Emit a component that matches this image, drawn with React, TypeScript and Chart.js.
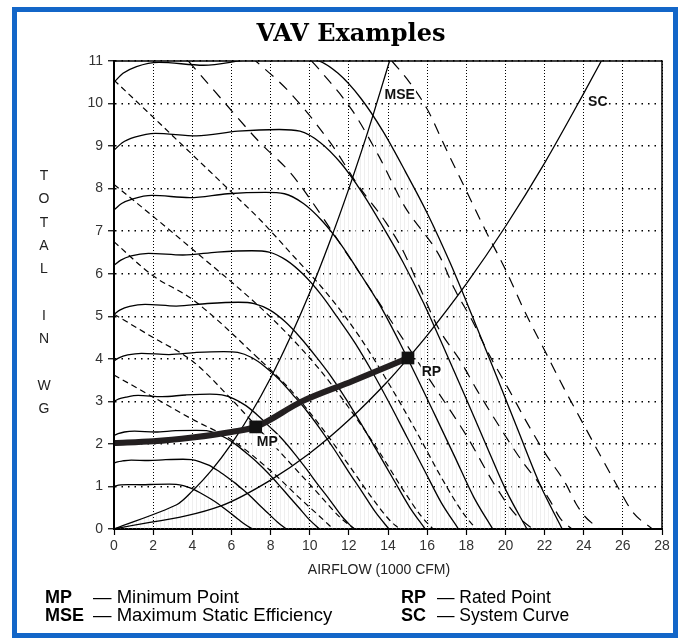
import React, { useEffect, useRef } from "react";
import { Chart, registerables } from "chart.js";

Chart.register(...registerables);

type Pt = [number, number];

// ---------- axes ----------
const xMin = 0;
const xMax = 28;
const xStep = 2;
const yMin = 0;
const yMax = 11;
const yStep = 1;

// ---------- fan speed curves (solid) ----------
const fanCurve1: Pt[] = [[0,10.5],[0.46,10.71],[1.15,10.87],[2.29,10.97],[4.58,10.9],[6.87,11.03],[9.16,11.08],[10.31,11.03],[11.45,10.71],[12.6,10.13],[13.74,9.35],[14.89,8.4],[16.03,7.4],[17.18,6.25],[18.32,4.99],[19.47,3.68],[20.61,2.36],[21.76,1.05],[22.9,0]];
const fanCurve2: Pt[] = [[0,8.9],[0.42,9.08],[1.06,9.21],[2.11,9.3],[4.22,9.24],[6.33,9.35],[8.44,9.39],[9.5,9.35],[10.55,9.08],[11.61,8.59],[12.66,7.92],[13.72,7.12],[14.77,6.27],[15.83,5.3],[16.88,4.23],[17.94,3.12],[18.99,2.0],[20.05,0.89],[21.1,0]];
const fanCurve3: Pt[] = [[0,7.5],[0.39,7.65],[0.97,7.76],[1.94,7.84],[3.87,7.79],[5.81,7.88],[7.74,7.91],[8.71,7.88],[9.68,7.65],[10.64,7.24],[11.61,6.68],[12.58,6.0],[13.55,5.29],[14.51,4.46],[15.48,3.56],[16.45,2.63],[17.42,1.69],[18.38,0.75],[19.35,0]];
const fanCurve4: Pt[] = [[0,6.2],[0.35,6.32],[0.88,6.42],[1.76,6.48],[3.52,6.44],[5.28,6.51],[7.04,6.54],[7.92,6.51],[8.8,6.32],[9.68,5.98],[10.56,5.52],[11.44,4.96],[12.32,4.37],[13.2,3.69],[14.08,2.95],[14.96,2.17],[15.84,1.4],[16.72,0.62],[17.6,0]];
const fanCurve5: Pt[] = [[0,5.05],[0.32,5.15],[0.8,5.23],[1.59,5.28],[3.18,5.24],[4.77,5.3],[6.36,5.33],[7.16,5.3],[7.95,5.15],[8.75,4.87],[9.54,4.49],[10.34,4.04],[11.13,3.56],[11.93,3.0],[12.72,2.4],[13.52,1.77],[14.31,1.14],[15.11,0.51],[15.9,0]];
const fanCurve6: Pt[] = [[0,3.95],[0.28,4.03],[0.7,4.09],[1.41,4.13],[2.81,4.1],[4.22,4.15],[5.62,4.17],[6.32,4.15],[7.03,4.03],[7.73,3.81],[8.43,3.52],[9.13,3.16],[9.84,2.78],[10.54,2.35],[11.24,1.88],[11.94,1.38],[12.65,0.89],[13.35,0.4],[14.05,0]];
const fanCurve7: Pt[] = [[0,3.0],[0.25,3.06],[0.61,3.1],[1.23,3.14],[2.45,3.11],[3.68,3.15],[4.9,3.17],[5.51,3.15],[6.13,3.06],[6.74,2.9],[7.35,2.67],[7.96,2.4],[8.58,2.12],[9.19,1.79],[9.8,1.43],[10.41,1.05],[11.03,0.68],[11.64,0.3],[12.25,0]];
const fanCurve8: Pt[] = [[0,2.2],[0.21,2.24],[0.53,2.28],[1.05,2.3],[2.1,2.28],[3.15,2.31],[4.2,2.32],[4.73,2.31],[5.25,2.24],[5.78,2.12],[6.3,1.96],[6.83,1.76],[7.35,1.55],[7.88,1.31],[8.4,1.05],[8.93,0.77],[9.45,0.5],[9.98,0.22],[10.5,0]];
const fanCurve9: Pt[] = [[0,1.55],[0.18,1.58],[0.44,1.6],[0.88,1.62],[1.76,1.61],[2.64,1.63],[3.52,1.64],[3.96,1.63],[4.4,1.58],[4.84,1.5],[5.28,1.38],[5.72,1.24],[6.16,1.09],[6.6,0.92],[7.04,0.74],[7.48,0.54],[7.92,0.35],[8.36,0.16],[8.8,0]];
const fanCurve10: Pt[] = [[0,1.0],[0.14,1.02],[0.35,1.035],[0.71,1.045],[1.41,1.04],[2.12,1.05],[2.83,1.055],[3.18,1.05],[3.54,1.02],[3.89,0.965],[4.24,0.89],[4.6,0.8],[4.95,0.705],[5.3,0.6],[5.66,0.475],[6.01,0.35],[6.36,0.225],[6.72,0.1],[7.07,0]];

// ---------- short-dashed curves (from left axis) ----------
const shortDash1: Pt[] = [[0,10.55],[2,9.68],[4,8.8],[6,7.92],[7.42,7.29],[9,6.5],[11,5.47],[12.5,4.55],[14,3.45],[15.5,2.25],[16.8,1.15],[17.8,0.4],[18.5,0]];
const shortDash2: Pt[] = [[0,8.1],[2.15,7.29],[4,6.58],[7.4,5.24],[9,4.52],[10.5,3.75],[12,2.85],[13.5,1.85],[14.8,0.9],[15.7,0.3],[16.3,0]];
const shortDash3: Pt[] = [[0,6.75],[2,5.95],[4,5.4],[7.4,4.0],[9,3.28],[10.5,2.45],[12,1.5],[13.2,0.72],[14.1,0.2],[14.6,0]];
const shortDash4: Pt[] = [[0,5.05],[2,4.5],[4,3.95],[6,3.05],[7.4,2.35],[9,1.55],[10.5,0.8],[11.6,0.25],[12.3,0]];
const shortDash5: Pt[] = [[0,3.62],[2,3.1],[4,2.58],[6,2.1],[8.1,1.33],[9.5,0.72],[10.5,0.3],[11.2,0]];

// ---------- long-dashed curves (from the top) ----------
const longDash1: Pt[] = [[3.8,11],[5.5,10.1],[7.42,9.1],[8.96,8.4],[9.8,7.9],[12,6.4],[14,5.0],[16,3.6],[18,2.2],[19.5,1.0],[20.5,0.35],[21.4,0]];
const longDash2: Pt[] = [[7.0,11.1],[8.96,10.27],[11.1,9.05],[12.5,8.06],[13.9,7.2],[14.7,6.6],[15.6,5.7],[16.6,4.7],[17.7,3.95],[18.5,3.3],[19.5,2.55],[20.4,1.9],[21.0,1.5],[21.6,1.15],[22.3,0.65],[22.8,0.25],[23.4,0]];
const longDash3: Pt[] = [[10.1,11.0],[10.6,10.74],[12.2,9.82],[13.56,8.74],[14.84,7.59],[16.63,6.42],[17.4,5.64],[18.3,4.9],[19.2,4.07],[20.1,3.34],[21.1,2.5],[22.0,1.8],[23.1,1.05],[23.6,0.6],[24.05,0.3],[24.8,0]];
const longDash4: Pt[] = [[14.2,11],[15.1,10.5],[16,9.87],[17,8.9],[18,7.95],[19,7.0],[20,6.1],[21,5.1],[22,4.2],[23,3.3],[24,2.45],[25,1.6],[25.8,0.94],[26.5,0.4],[27.5,0]];

// ---------- system curve, MSE, operating line ----------
const systemCurve: Pt[] = [[0,0],[5.5,0.55],[8,1.15],[10,1.78],[12,2.56],[14,3.48],[15,4.0],[16,4.55],[18,5.76],[20,7.11],[22,8.6],[24,10.24],[24.9,11.0]];
const mseCurve: Pt[] = [[0,0],[3.2,0.57],[4,0.89],[5,1.39],[6,2.0],[7,2.72],[8,3.55],[9,4.5],[10,5.55],[11,6.72],[12,8.0],[13,9.38],[14.08,11.0]];
const operatingLine: Pt[] = [[0,2.02],[2,2.06],[4,2.15],[6,2.28],[7.24,2.4],[9.6,3.0],[12.2,3.48],[15.02,4.02]];
const minimumPoint: Pt = [7.24, 2.4];
const ratedPoint: Pt = [15.02, 4.02];
const hatchApex: Pt = [13.2, 9.7];

// ---------- in-plot labels ----------
const curveLabelTexts = ["MSE", "SC", "MP", "RP"];
const curveLabelAnchors: Pt[] = [[14.6, 10.22], [24.72, 10.05], [7.83, 2.06], [16.22, 3.7]];

// ---------- text ----------
const titleText = "VAV Examples";
const xAxisTitle = "AIRFLOW (1000 CFM)";
const yAxisLetters = ["T", "O", "T", "A", "L", "", "I", "N", "", "W", "G"];
const legendRows = [
  { k1: "MP", t1: "— Minimum Point", k2: "RP", t2: "— Rated Point" },
  { k1: "MSE", t1: "— Maximum Static Efficiency", k2: "SC", t2: "— System Curve" },
];

const SANS = "'Liberation Sans', Arial, Helvetica, sans-serif";

const toXY = (pts: Pt[]) => pts.map(([x, y]) => ({ x, y }));

export default function App() {
  const ref = useRef<HTMLCanvasElement | null>(null);

  useEffect(() => {
    const canvas = ref.current;
    if (!canvas) return;
    const ctx = canvas.getContext("2d");
    if (!ctx) return;

    const pc = document.createElement("canvas");
    pc.width = 4;
    pc.height = 4;
    const pctx = pc.getContext("2d")!;
    pctx.fillStyle = "#efefef";
    pctx.fillRect(0, 0, 1, 4);
    const hatchPattern = ctx.createPattern(pc, "repeat") || "#f4f4f4";

    const hatchPolygon: Pt[] = [
      ...mseCurve.filter((p) => p[0] < hatchApex[0]),
      hatchApex,
      ...fanCurve1.filter((p) => p[0] > hatchApex[0]),
      [0, 0],
    ];

    const solid = (pts: Pt[], order = 3, width = 1.3) => ({
      data: toXY(pts),
      borderColor: "#000",
      borderWidth: width,
      pointRadius: 0,
      fill: false,
      cubicInterpolationMode: "monotone" as const,
      order,
    });
    const dashed = (pts: Pt[], dash: number[]) => ({
      ...solid(pts, 4, 1.2),
      borderDash: dash,
    });

    const fans = [fanCurve1, fanCurve2, fanCurve3, fanCurve4, fanCurve5, fanCurve6, fanCurve7, fanCurve8, fanCurve9, fanCurve10];
    const shorts = [shortDash1, shortDash2, shortDash3, shortDash4, shortDash5];
    const longs = [longDash1, longDash2, longDash3, longDash4];

    const datasets: any[] = [
      {
        data: toXY([minimumPoint, ratedPoint]),
        showLine: false,
        pointStyle: "rect",
        pointRadius: 9,
        pointBackgroundColor: "#111",
        pointBorderColor: "#111",
        pointBorderWidth: 0,
        order: 0,
      },
      {
        data: toXY(operatingLine),
        borderColor: "#231f20",
        borderWidth: 6,
        pointRadius: 0,
        cubicInterpolationMode: "monotone",
        borderCapStyle: "round",
        fill: false,
        order: 1,
      },
      solid(systemCurve, 2, 1.3),
      { ...solid(mseCurve, 2, 1.3), cubicInterpolationMode: "default", tension: 0.3 },
      ...fans.map((f) => solid(f)),
      ...shorts.map((s) => dashed(s, [6, 4])),
      ...longs.map((l) => dashed(l, [11, 8])),
      {
        data: toXY(hatchPolygon),
        borderWidth: 0,
        borderColor: "rgba(0,0,0,0)",
        backgroundColor: hatchPattern,
        pointRadius: 0,
        fill: "shape",
        tension: 0,
        order: 10,
      },
    ];

    const annotate = {
      id: "vavAnnotate",
      afterDatasetsDraw(chart: any) {
        const { ctx: c, chartArea: a, scales } = chart;
        c.save();
        c.strokeStyle = "#000";
        c.lineWidth = 1.5;
        c.setLineDash([]);
        c.strokeRect(a.left, a.top, a.right - a.left, a.bottom - a.top);
        c.font = `bold 14px ${SANS}`;
        c.textAlign = "center";
        c.textBaseline = "middle";
        curveLabelTexts.forEach((t, i) => {
          const px = scales.x.getPixelForValue(curveLabelAnchors[i][0]);
          const py = scales.y.getPixelForValue(curveLabelAnchors[i][1]);
          const w = c.measureText(t).width;
          c.fillStyle = "#fff";
          c.fillRect(px - w / 2 - 1, py - 7, w + 2, 14);
          c.fillStyle = "#111";
          c.fillText(t, px, py + 1);
        });
        c.restore();
      },
    };

    const tickFont = { family: SANS, size: 14 };

    const chart = new Chart(ctx, {
      type: "line",
      data: { datasets },
      plugins: [annotate],
      options: {
        responsive: false,
        animation: false,
        events: [],
        layout: { padding: { left: 59, right: 20, top: 61, bottom: 84 } },
        plugins: {
          legend: { display: false },
          tooltip: { enabled: false },
          title: { display: false },
        },
        scales: {
          x: {
            type: "linear",
            min: xMin,
            max: xMax,
            ticks: { stepSize: xStep, color: "#333", font: tickFont, padding: 3, maxRotation: 0, autoSkip: false },
            grid: { color: "#000", lineWidth: 1, tickLength: 6, tickColor: "#000", tickWidth: 1.2 },
            border: { display: true, color: "#000", width: 2, dash: [1, 2] },
            afterFit: (s: any) => {
              s.height = 30;
            },
          },
          y: {
            type: "linear",
            min: yMin,
            max: yMax,
            ticks: { stepSize: yStep, color: "#333", font: tickFont, padding: 5, autoSkip: false },
            grid: { color: "#000", lineWidth: 1.5, tickLength: 6, tickColor: "#000", tickWidth: 1.2 },
            border: { display: true, color: "#000", width: 2, dash: [1.5, 5] },
            afterFit: (s: any) => {
              s.width = 55;
            },
          },
        },
      } as any,
    });

    return () => chart.destroy();
  }, []);

  const abs = (o: React.CSSProperties): React.CSSProperties => ({ position: "absolute", margin: 0, whiteSpace: "nowrap", ...o });

  return (
    <div style={{ position: "absolute", left: 0, top: 0, width: 682, height: 643, overflow: "hidden", background: "#fff" }}>
      <canvas ref={ref} width={682} height={643} style={{ position: "absolute", left: 0, top: 0, width: 682, height: 643 }} />
      <div
        style={abs({
          left: 12,
          top: 7,
          width: 666,
          height: 631,
          boxSizing: "border-box",
          border: "5px solid #1366c8",
          pointerEvents: "none",
        })}
      />
      <div
        style={abs({
          left: 0,
          width: 702,
          top: 18,
          lineHeight: "30px",
          textAlign: "center",
          fontFamily: "'DejaVu Serif', 'Liberation Serif', serif",
          fontWeight: "bold",
          fontSize: 24,
          color: "#000",
        })}
      >
        {titleText}
      </div>
      {yAxisLetters.map((ch, i) =>
        ch ? (
          <div
            key={i}
            style={abs({
              left: 34,
              width: 20,
              top: 166 + i * 23.3,
              lineHeight: "18px",
              textAlign: "center",
              fontFamily: SANS,
              fontSize: 14,
              color: "#222",
            })}
          >
            {ch}
          </div>
        ) : null
      )}
      <div
        style={abs({
          left: 279,
          width: 200,
          top: 560,
          lineHeight: "18px",
          textAlign: "center",
          fontFamily: SANS,
          fontSize: 14,
          color: "#222",
        })}
      >
        {xAxisTitle}
      </div>
      {legendRows.map((r, i) => (
        <React.Fragment key={i}>
          <div style={abs({ left: 45, top: 587 + i * 18, lineHeight: "20px", fontFamily: SANS, fontSize: 18, fontWeight: "bold", color: "#000" })}>{r.k1}</div>
          <div style={abs({ left: 93, top: 587 + i * 18, lineHeight: "20px", fontFamily: SANS, fontSize: 18.5, color: "#000" })}>{r.t1}</div>
          <div style={abs({ left: 401, top: 587 + i * 18, lineHeight: "20px", fontFamily: SANS, fontSize: 18, fontWeight: "bold", color: "#000" })}>{r.k2}</div>
          <div style={abs({ left: 437, top: 587 + i * 18, lineHeight: "20px", fontFamily: SANS, fontSize: 17.5, color: "#000" })}>{r.t2}</div>
        </React.Fragment>
      ))}
    </div>
  );
}
